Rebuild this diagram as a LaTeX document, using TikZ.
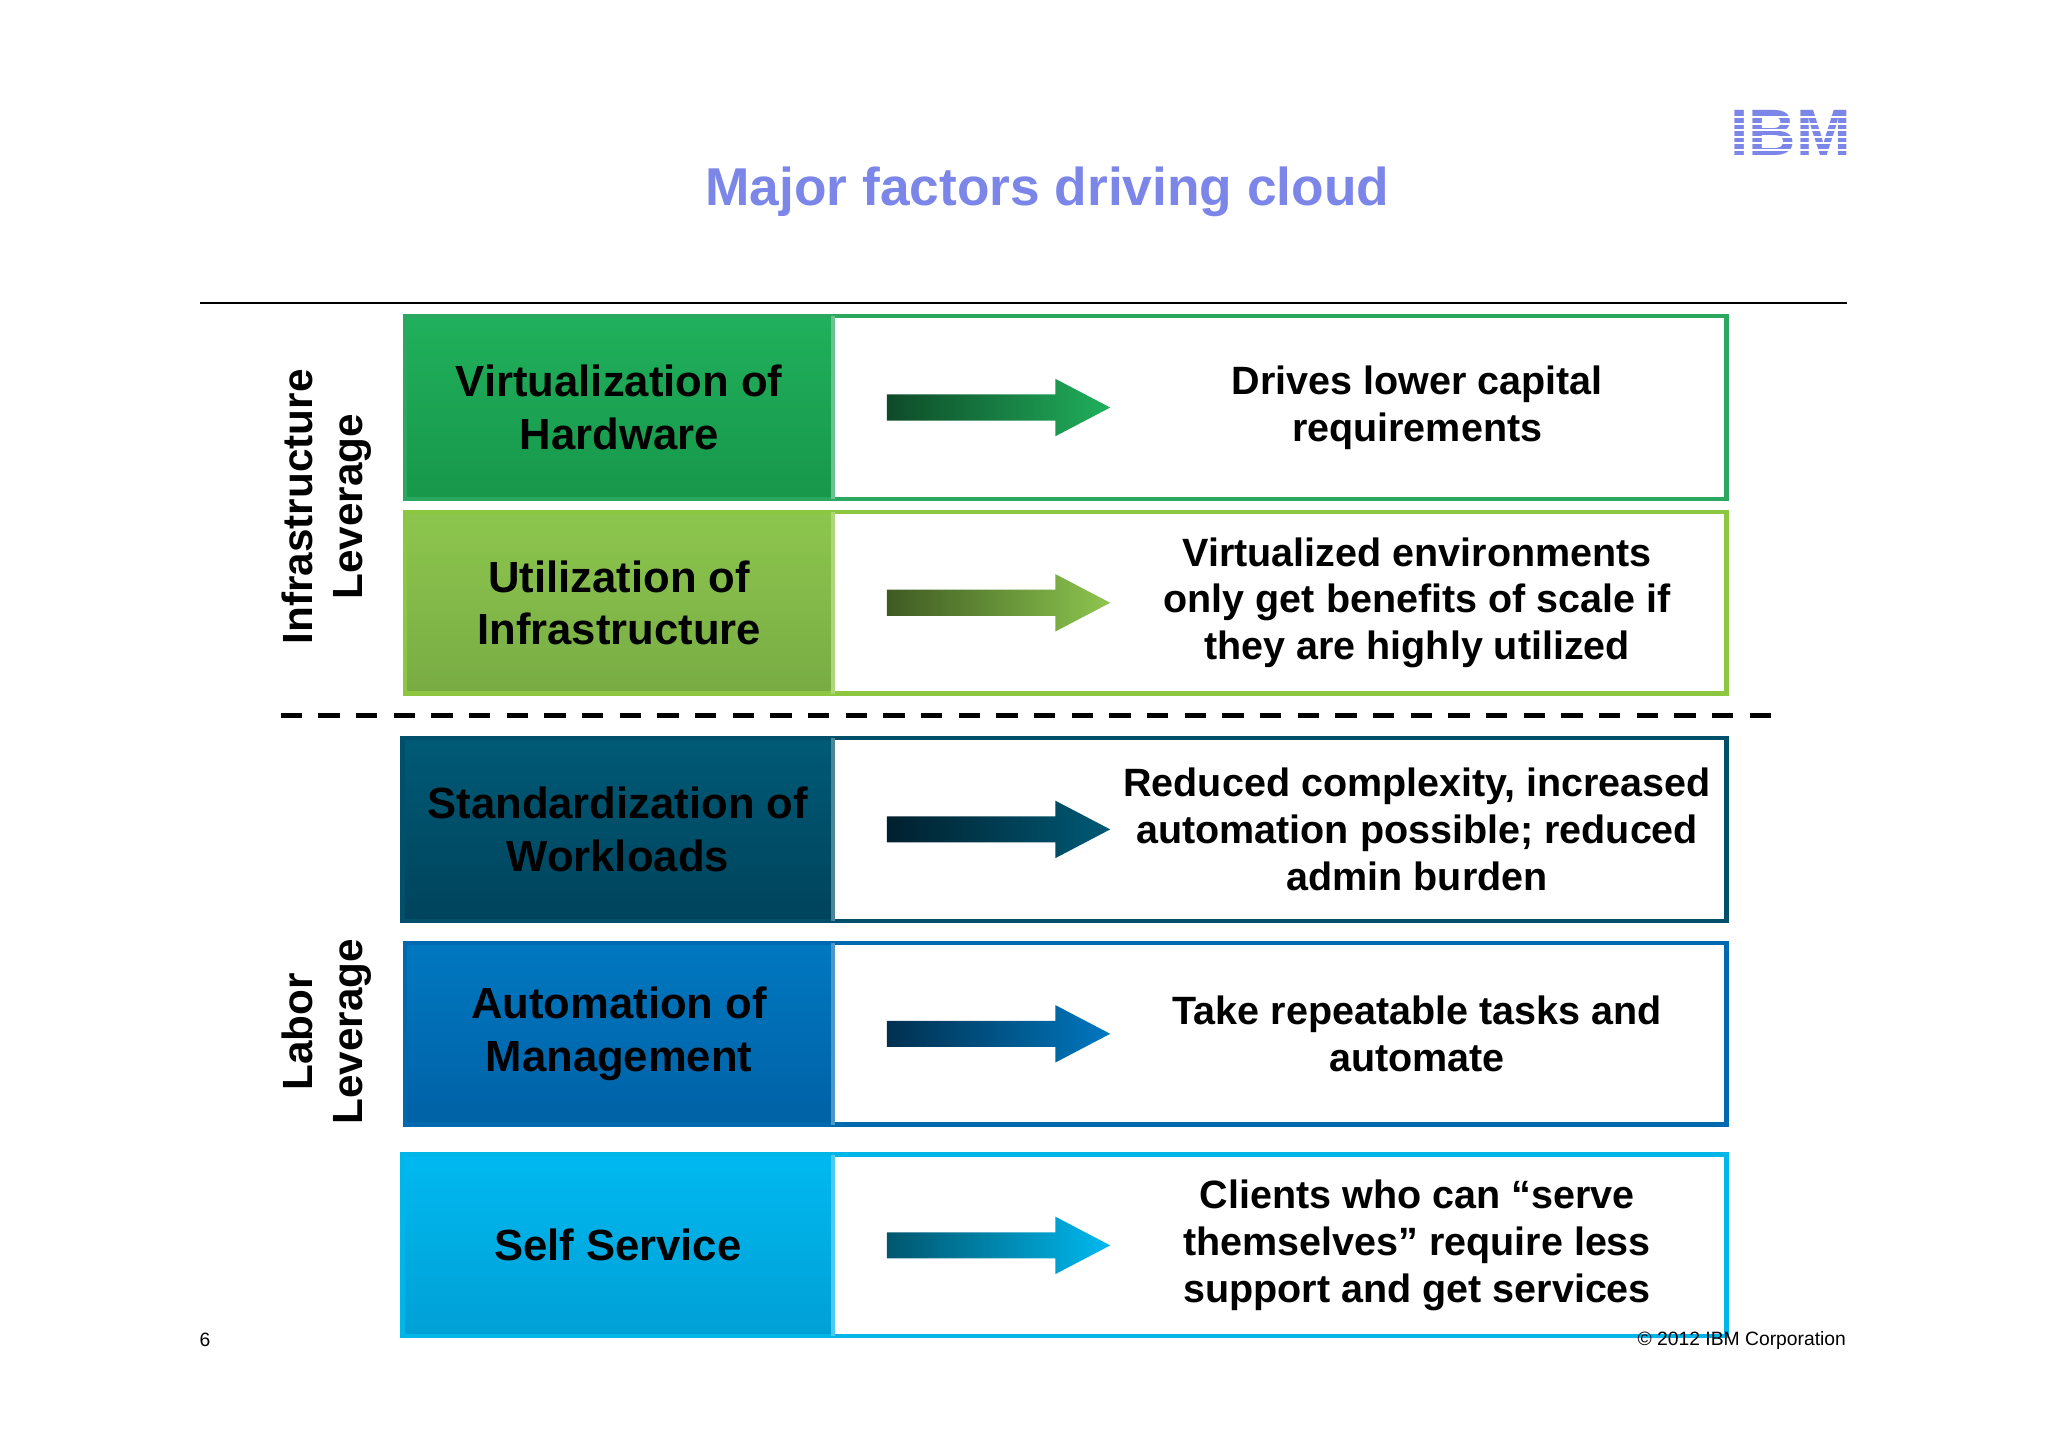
\documentclass[tikz,border=0pt]{standalone}
\usepackage{fontspec}
\setmainfont{Liberation Sans}
\begin{document}
\begin{tikzpicture}[x=0.01cm,y=-0.01cm,
  lbl/.style={font=\fontsize{9.5}{11.4}\selectfont\bfseries,align=center,text=black},
  rlbl/.style={font=\fontsize{8.6}{10.2}\selectfont\bfseries,align=center,text=black},
  side/.style={font=\fontsize{9.2}{11}\selectfont\bfseries,align=center,rotate=90}]
\useasboundingbox (0,0) rectangle (1568,1108);
\definecolor{title}{HTML}{7B86E8}
\node[font=\fontsize{11.6}{13}\selectfont\bfseries,text=title] (title) at (802,147) {Major factors driving cloud};
% IBM logo
\node[font=\fontsize{11}{11}\selectfont\bfseries,text=title,inner sep=0pt,scale=1.3] (ibm) at (1371,102) {IBM};
\foreach \yy in {89,94,99,104,109,114} \fill[white] (1320,\yy) rectangle (1420,\yy+1.6);
\draw[line width=0.4pt] (153,232) -- (1414,232);
\newcommand\myrow[9]{%
  \definecolor{ca}{HTML}{#3}\definecolor{cb}{HTML}{#4}\definecolor{cd}{HTML}{#5}\definecolor{ce}{HTML}{#6}%
  \shade[top color=ca,bottom color=cb] (#9,#1) rectangle (638,#2);
  \draw[ce,line width=1pt] (#9,#1) rectangle (1322,#2);
  \draw[ce!70!white,line width=0.8pt] (638,#1) -- (638,#2);
  \node[lbl] (L#1) at ({(#9+638)/2},{(#1+#2)/2}) {#7};
  \node[rlbl] (R#1) at (1085,{(#1+#2)/2}) {#8};
  \shade[left color=cd,right color=ca]
    (679,{(#1+#2)/2-10}) -- (808,{(#1+#2)/2-10}) -- (808,{(#1+#2)/2-22}) -- (850,{(#1+#2)/2})
    -- (808,{(#1+#2)/2+22}) -- (808,{(#1+#2)/2+10}) -- (679,{(#1+#2)/2+10}) -- cycle;
}
\myrow{242}{382}{20B05C}{17974A}{0E4A28}{2AA860}{Virtualization of\\Hardware}{Drives lower capital\\requirements}{310}
\myrow{392}{531}{8DC64E}{78AC44}{3E5A22}{8DC63F}{Utilization of\\Infrastructure}{Virtualized environments\\only get benefits of scale if\\they are highly utilized}{310}
\myrow{565}{705}{005A76}{00435C}{00202E}{00506B}{Standardization of\\Workloads}{Reduced complexity, increased\\automation possible; reduced\\admin burden}{308}
\myrow{722}{861}{0078C0}{0061A6}{00304F}{0069B0}{Automation of\\Management}{Take repeatable tasks and\\automate}{310}
\myrow{884}{1023}{00B9F0}{00A0D6}{00566E}{00B5E8}{Self Service}{Clients who can “serve\\themselves” require less\\support and get services}{308}
\draw[line width=1.1pt,dash pattern=on 4.6pt off 3.6pt] (215,548) -- (1365,548);
\node[side] (s1) at (250,388) {Infrastructure\\Leverage};
\node[side] (s2) at (250,790) {Labor\\Leverage};
\node[font=\fontsize{4.2}{5}\selectfont] (pg) at (157,1026) {6};
\node[font=\fontsize{4.2}{5}\selectfont,anchor=east,inner sep=0pt] (cp) at (1414,1026) {© 2012 IBM Corporation};
\end{tikzpicture}
\end{document}
